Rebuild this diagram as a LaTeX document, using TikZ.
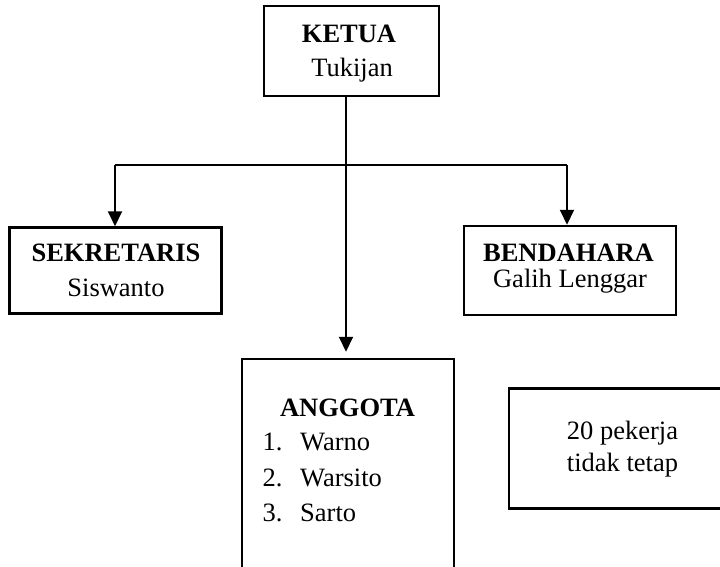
\documentclass[tikz,border=0pt]{standalone}
\usepackage{fontspec}
\setmainfont{Liberation Serif}
\usetikzlibrary{arrows.meta}
\begin{document}
\begin{tikzpicture}[x=1pt,y=-1pt,
  box/.style={draw, line width=2.5pt, inner sep=0pt, rectangle},
  lbl/.style={anchor=base, inner sep=0pt, font=\fontsize{26.5}{32}\selectfont},
  lblw/.style={lbl, anchor=base west},
  link/.style={line width=2pt},
  rail/.style={line width=1.3pt},
  tip/.style={-{Triangle[length=15pt,width=14pt]}}]
\useasboundingbox (0,0) rectangle (720,566);
\clip (0,0) rectangle (720,566);

% boxes
\node[box, minimum width=175pt, minimum height=90pt] (ketua) at (351.5,51) {};
\node[box, minimum width=212pt, minimum height=86pt] (sekretaris) at (115.5,270.5) {};
\node[box, minimum width=212pt, minimum height=89pt] (bendahara) at (570,270.5) {};
\node[box, minimum width=212pt, minimum height=241pt] (anggota) at (348,479.5) {};
\node[box, minimum width=227pt, minimum height=120pt] (pekerja) at (622.5,448.5) {};

% texts
\node[lbl] (ketuaA) at (349,42.7) {\bfseries KETUA};
\node[lbl] (ketuaB) at (352,76.7) {Tukijan};
\node[lbl] (sekA) at (116,261) {\bfseries SEKRETARIS};
\node[lbl] (sekB) at (116,296) {Siswanto};
\node[lbl] (benA) at (568.5,261) {\bfseries BENDAHARA};
\node[lbl] (benB) at (570,287) {Galih Lenggar};
\node[lbl] (angA) at (347.5,416.7) {\bfseries ANGGOTA};
\node[lblw] (n1) at (262.3,450) {1.};
\node[lblw] (n2) at (262.3,486.7) {2.};
\node[lblw] (n3) at (262.3,521.7) {3.};
\node[lblw] (m1) at (300,450) {Warno};
\node[lblw] (m2) at (300,486.7) {Warsito};
\node[lblw] (m3) at (300,521.7) {Sarto};
\node[lbl] (pkA) at (622.5,439) {20 pekerja};
\node[lbl] (pkB) at (622.5,471) {tidak tetap};

% connectors
\coordinate (stem) at (346,165);
\coordinate (jl) at (115,165);
\coordinate (jr) at (567,165);
\draw[link, tip, shorten >=6pt] (ketua.south -| stem) -- (anggota.north -| stem);
\draw[rail] (jl) -- (jr);
\draw[link, tip] (jl) -- (sekretaris.north -| jl);
\draw[link, tip] (jr) -- (bendahara.north -| jr);
\end{tikzpicture}
\end{document}
